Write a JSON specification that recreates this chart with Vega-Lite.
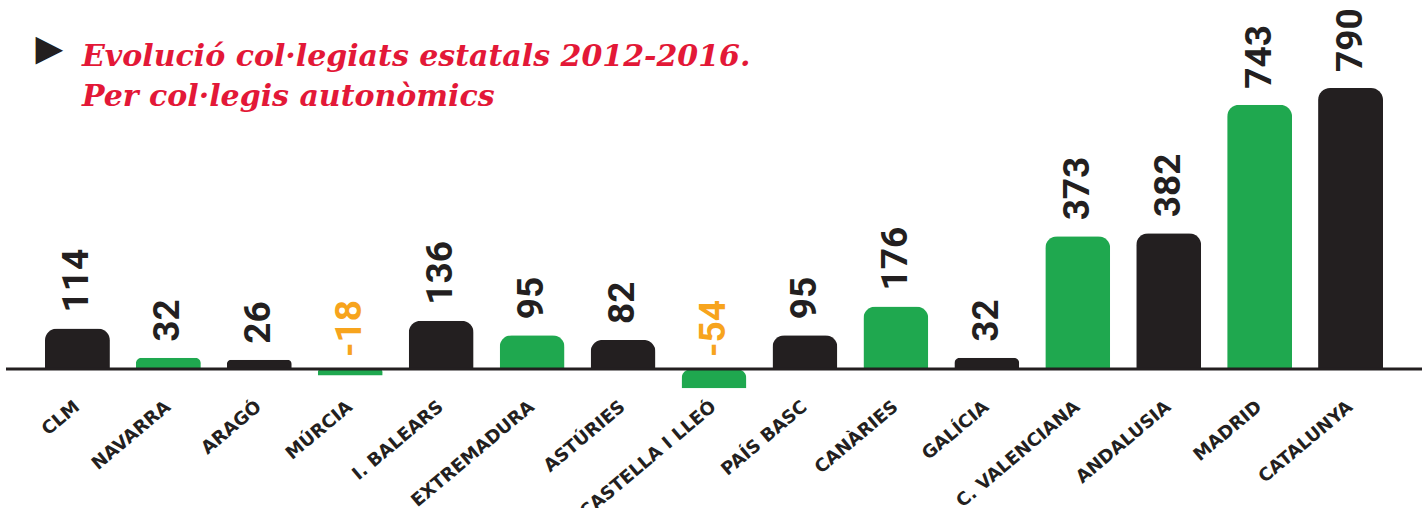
{
  "$schema": "https://vega.github.io/schema/vega-lite/v6.json",
  "width": 1416,
  "height": 334.4,
  "autosize": {"type": "none"},
  "padding": {"left": 6, "top": 56, "right": 4, "bottom": 117.6},
  "background": "white",
  "config": {"view": {"stroke": null}},
  "title": {
    "text": ["Evolució col·legiats estatals 2012-2016.", "Per col·legis autonòmics"],
    "anchor": "start",
    "frame": "group",
    "dx": 76,
    "offset": -104,
    "font": "DejaVu Serif",
    "fontStyle": "italic",
    "fontWeight": "bold",
    "fontSize": 30,
    "lineHeight": 40,
    "color": "#e31837"
  },
  "data": {
    "values": [
      {"region": "CLM", "v": 114},
      {"region": "NAVARRA", "v": 32},
      {"region": "ARAGÓ", "v": 26},
      {"region": "MÚRCIA", "v": -18},
      {"region": "I. BALEARS", "v": 136},
      {"region": "EXTREMADURA", "v": 95},
      {"region": "ASTÚRIES", "v": 82},
      {"region": "CASTELLA I LLEÓ", "v": -54},
      {"region": "PAÍS BASC", "v": 95},
      {"region": "CANÀRIES", "v": 176},
      {"region": "GALÍCIA", "v": 32},
      {"region": "C. VALENCIANA", "v": 373},
      {"region": "ANDALUSIA", "v": 382},
      {"region": "MADRID", "v": 743},
      {"region": "CATALUNYA", "v": 790}
    ]
  },
  "transform": [
    {"window": [{"op": "row_number", "as": "i"}]},
    {"calculate": "max(datum.v, 0)", "as": "lp"}
  ],
  "layer": [
    {
      "mark": {"type": "bar", "cornerRadiusEnd": 12},
      "encoding": {
        "x": {
          "field": "region", "type": "nominal", "sort": null,
          "scale": {"paddingInner": 0.286, "paddingOuter": 0.4286},
          "axis": {
            "title": null, "domain": false, "ticks": false,
            "labelAngle": -40, "labelAlign": "right", "labelBaseline": "middle",
            "labelFont": "DejaVu Sans", "labelFontWeight": "bold", "labelFontSize": 18,
            "labelColor": "#231f20", "labelPadding": 14, "labelOverlap": false,
            "labelLimit": 0, "labelBound": false
          }
        },
        "y": {"field": "v", "type": "quantitative", "scale": {"domain": [-60, 880], "nice": false, "zero": true}, "axis": null},
        "color": {"condition": {"test": "datum.i % 2 === 0", "value": "#1fa84f"}, "value": "#231f20"}
      }
    },
    {
      "data": {"values": [{}]},
      "mark": {"type": "rule", "color": "#231f20", "strokeWidth": 3},
      "encoding": {"y": {"datum": 0}}
    },
    {
      "transform": [{"filter": "datum.v >= 0"}],
      "mark": {"type": "text", "angle": 270, "align": "left", "baseline": "middle", "dx": 16, "font": "Roboto", "fontWeight": "bold", "fontSize": 37, "color": "#231f20"},
      "encoding": {
        "x": {"field": "region", "type": "nominal", "sort": null},
        "y": {"field": "lp", "type": "quantitative"},
        "text": {"field": "v", "type": "nominal"}
      }
    },
    {
      "transform": [{"filter": "datum.v < 0"}],
      "mark": {"type": "text", "angle": 270, "align": "left", "baseline": "middle", "dx": 12, "font": "Roboto", "fontWeight": "bold", "fontSize": 37, "color": "#f7a41d"},
      "encoding": {
        "x": {"field": "region", "type": "nominal", "sort": null},
        "y": {"field": "lp", "type": "quantitative"},
        "text": {"field": "v", "type": "nominal"}
      }
    },
    {
      "data": {"values": [{"s": "▶"}]},
      "mark": {"type": "text", "align": "center", "baseline": "middle", "dx": -28, "dy": -2, "font": "DejaVu Sans", "fontSize": 36, "color": "#231f20"},
      "encoding": {
        "x": {"datum": "CLM"},
        "y": {"datum": 894},
        "text": {"field": "s", "type": "nominal"}
      }
    }
  ]
}
